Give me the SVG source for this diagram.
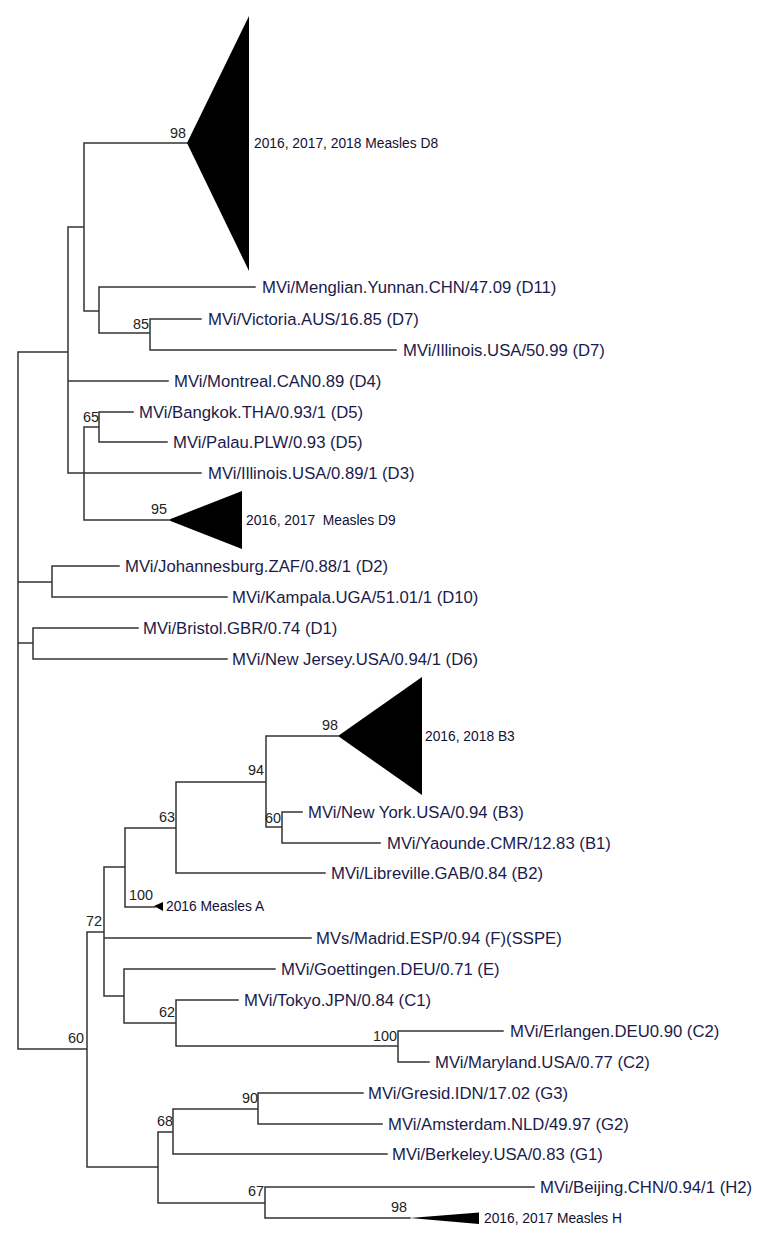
<svg xmlns="http://www.w3.org/2000/svg" width="765" height="1251" viewBox="0 0 765 1251">
<style>
.br{fill:none;stroke:#333;stroke-width:1.5;stroke-linecap:square}
.lf{font-family:"Liberation Sans",Arial,sans-serif;font-size:16.7px;fill:#1b1b4b}
.cl{font-family:"Liberation Sans",Arial,sans-serif;font-size:13.8px;fill:#111133}
.bs{font-family:"Liberation Sans",Arial,sans-serif;font-size:14.4px;fill:#222;text-anchor:end}
.tri{fill:#000}
</style>
<rect width="765" height="1251" fill="#fff"/>
<g id="connectors">
<path class="br" d="
M18,352V1049
M18,352H68 M68,227V473
M68,227H84 M84,143V311 M84,143H187
M84,311H99 M99,287V333 M99,287H255
M99,333H150 M150,319V350 M150,319H201 M150,350H396
M68,381H168
M68,473H201
M84,427V520 M84,427H99 M99,412V442 M99,412H133 M99,442H167
M84,520H168
M18,582H52 M52,566V597 M52,566H119 M52,597H227
M18,643H33 M33,628V659 M33,628H138 M33,659H227
M18,1049H87 M87,932V1167
M87,932H104 M104,867V996
M104,867H125 M125,828V907
M125,828H176 M176,782V873
M176,782H266 M266,736V827 M266,736H338
M266,827H282 M282,812V843 M282,812H302 M282,843H380
M176,873H325
M125,907H155
M104,938H311
M104,996H124 M124,969V1023 M124,969H275
M124,1023H176 M176,1000V1046 M176,1000H238
M176,1046H398 M398,1031V1062 M398,1031H503 M398,1062H429
M87,1167H158 M158,1132V1203
M158,1132H173 M173,1109V1154 M173,1109H258 M258,1093V1124 M258,1093H363 M258,1124H382
M173,1154H387
M158,1203H265 M265,1187V1218 M265,1187H534 M265,1218H410"/>
</g>
<g id="support">
<text class="bs" x="186" y="138">98</text>
<text class="bs" x="149" y="329">85</text>
<text class="bs" x="99" y="422">65</text>
<text class="bs" x="167" y="514">95</text>
<text class="bs" x="338" y="730">98</text>
<text class="bs" x="264" y="775">94</text>
<text class="bs" x="281" y="823">60</text>
<text class="bs" x="175" y="822">63</text>
<text class="bs" x="153" y="900">100</text>
<text class="bs" x="102" y="926">72</text>
<text class="bs" x="175" y="1017">62</text>
<text class="bs" x="84" y="1043">60</text>
<text class="bs" x="397" y="1041">100</text>
<text class="bs" x="258" y="1103">90</text>
<text class="bs" x="173" y="1126">68</text>
<text class="bs" x="264" y="1196">67</text>
<text class="bs" x="407" y="1212">98</text>
</g>
<g id="clade-D8"><polygon class="tri" points="187,143 249,16 249,271"/><text class="cl" x="254" y="148">2016, 2017, 2018 Measles D8</text></g>
<g id="leaf-D11"><text class="lf" x="262" y="293">MVi/Menglian.Yunnan.CHN/47.09 (D11)</text></g>
<g id="leaf-D7a"><text class="lf" x="208" y="325">MVi/Victoria.AUS/16.85 (D7)</text></g>
<g id="leaf-D7b"><text class="lf" x="403" y="356">MVi/Illinois.USA/50.99 (D7)</text></g>
<g id="leaf-D4"><text class="lf" x="174" y="387">MVi/Montreal.CAN0.89 (D4)</text></g>
<g id="leaf-D5a"><text class="lf" x="139" y="418">MVi/Bangkok.THA/0.93/1 (D5)</text></g>
<g id="leaf-D5b"><text class="lf" x="173" y="448">MVi/Palau.PLW/0.93 (D5)</text></g>
<g id="leaf-D3"><text class="lf" x="208" y="479">MVi/Illinois.USA/0.89/1 (D3)</text></g>
<g id="clade-D9"><polygon class="tri" points="168,520 242,491 242,549"/><text class="cl" x="246" y="525" xml:space="preserve">2016, 2017  Measles D9</text></g>
<g id="leaf-D2"><text class="lf" x="125" y="572">MVi/Johannesburg.ZAF/0.88/1 (D2)</text></g>
<g id="leaf-D10"><text class="lf" x="232" y="603">MVi/Kampala.UGA/51.01/1 (D10)</text></g>
<g id="leaf-D1"><text class="lf" x="143" y="634">MVi/Bristol.GBR/0.74 (D1)</text></g>
<g id="leaf-D6"><text class="lf" x="232" y="665">MVi/New Jersey.USA/0.94/1 (D6)</text></g>
<g id="clade-B3"><polygon class="tri" points="338,736 422,677 422,795"/><text class="cl" x="425" y="741">2016, 2018 B3</text></g>
<g id="leaf-B3"><text class="lf" x="308" y="818">MVi/New York.USA/0.94 (B3)</text></g>
<g id="leaf-B1"><text class="lf" x="387" y="849">MVi/Yaounde.CMR/12.83 (B1)</text></g>
<g id="leaf-B2"><text class="lf" x="331" y="879">MVi/Libreville.GAB/0.84 (B2)</text></g>
<g id="clade-A"><polygon class="tri" points="154,906 163,902 163,911"/><text class="cl" x="166" y="911">2016 Measles A</text></g>
<g id="leaf-F"><text class="lf" x="316" y="944">MVs/Madrid.ESP/0.94 (F)(SSPE)</text></g>
<g id="leaf-E"><text class="lf" x="281" y="975">MVi/Goettingen.DEU/0.71 (E)</text></g>
<g id="leaf-C1"><text class="lf" x="244" y="1006">MVi/Tokyo.JPN/0.84 (C1)</text></g>
<g id="leaf-C2a"><text class="lf" x="510" y="1037">MVi/Erlangen.DEU0.90 (C2)</text></g>
<g id="leaf-C2b"><text class="lf" x="435" y="1068">MVi/Maryland.USA/0.77 (C2)</text></g>
<g id="leaf-G3"><text class="lf" x="368" y="1099">MVi/Gresid.IDN/17.02 (G3)</text></g>
<g id="leaf-G2"><text class="lf" x="388" y="1130">MVi/Amsterdam.NLD/49.97 (G2)</text></g>
<g id="leaf-G1"><text class="lf" x="392" y="1160">MVi/Berkeley.USA/0.83 (G1)</text></g>
<g id="leaf-H2"><text class="lf" x="540" y="1193">MVi/Beijing.CHN/0.94/1 (H2)</text></g>
<g id="clade-H"><polygon class="tri" points="410,1218 479,1212.5 479,1224"/><text class="cl" x="484" y="1223">2016, 2017 Measles H</text></g>
</svg>
